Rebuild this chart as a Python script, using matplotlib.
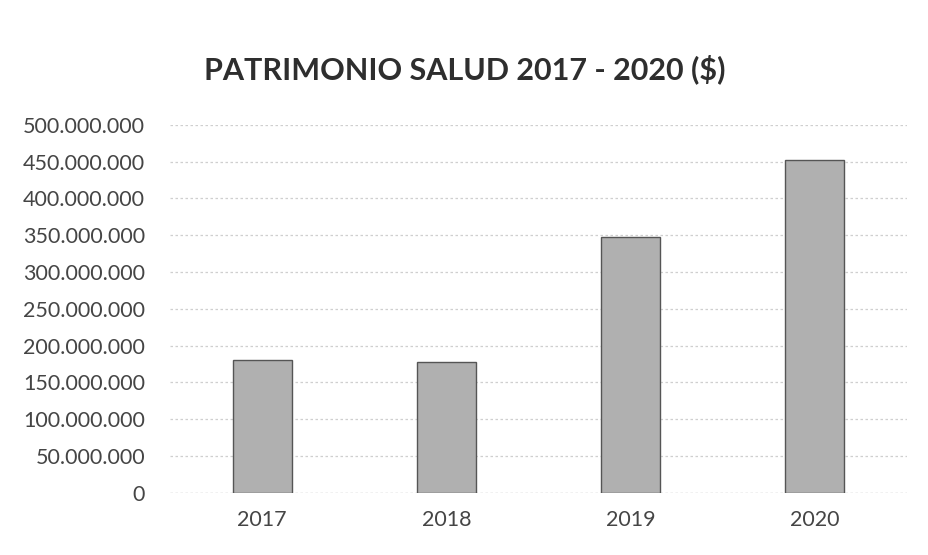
import matplotlib.pyplot as plt
from matplotlib.ticker import FuncFormatter

years = ["2017", "2018", "2019", "2020"]
patrimonio = [180000000, 178000000, 348000000, 452000000]
y_ticks = list(range(0, 500000001, 50000000))

plt.rcParams['font.family'] = ['Lato', 'DejaVu Sans']

fig = plt.figure(figsize=(9.29, 5.55), dpi=100)
ax = fig.add_axes([0.183, 0.112, 0.793, 0.663])

#bars in plain gray with a darker outline
ax.bar(years, patrimonio, width=0.32, color='#b0b0b0', edgecolor='#555555', linewidth=1.0, zorder=3)

ax.set_ylim(0, 500000000)
ax.set_xlim(-0.5, 3.5)
ax.set_yticks(y_ticks)
#thousands separated with dots
ax.yaxis.set_major_formatter(FuncFormatter(lambda v, p: f"{int(v):,}".replace(",", ".")))

ax.grid(axis='y', color='#cfcfcf', linestyle=(0, (2, 2)), linewidth=0.9, zorder=0)
for s in ax.spines.values():
    s.set_visible(False)
ax.axhline(0, color='#bdbdbd', linestyle=(0, (2, 2)), linewidth=0.9, zorder=1)

ax.tick_params(axis='both', length=0, labelsize=15.5, colors='#454545')
ax.tick_params(axis='y', pad=18)
ax.tick_params(axis='x', pad=12)

fig.text(0.5, 0.875, "PATRIMONIO SALUD 2017 - 2020 ($)", ha='center', va='center',
         fontsize=22, fontweight='bold', color='#2e2e2e')

plt.savefig("out.png", dpi=100)
